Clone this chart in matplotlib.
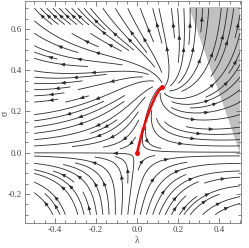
import numpy as np
import matplotlib
matplotlib.use("Agg")
import matplotlib.pyplot as plt
from matplotlib.ticker import MultipleLocator, FormatStrFormatter

# --- data ---
x_range = [-0.5, 0.5]
y_range = [-0.3, 0.7]
saddle = (0.0, 0.0)
source = (0.123, 0.318)
# red trajectory (source -> saddle)
red_x = [0.0, 0.012, 0.026, 0.049, 0.070, 0.089, 0.106, 0.123]
red_y = [0.0, 0.050, 0.105, 0.176, 0.230, 0.273, 0.302, 0.318]
# shaded (excluded) region
gray_x = [0.252, 0.5, 0.5]
gray_y = [0.704, 0.704, 0.0]
x_ticks = [-0.4, -0.2, 0.0, 0.2, 0.4]
y_ticks = [-0.2, 0.0, 0.2, 0.4, 0.6]

# --- vector field with a saddle at origin and a source at `source` ---
k = source[0] / source[1]

def field(X, Y):
    U = X - k * Y
    d = X - source[0]
    y0 = source[1] - 0.6 * d - 1.0 * d ** 2
    V = 3.0 * Y * (Y - y0)
    return U, V

fig = plt.figure(figsize=(2.49, 2.48), dpi=100)
ax = fig.add_axes([25 / 249, 1 - 223 / 248, 216 / 249, 222 / 248])

xs = np.linspace(x_range[0], x_range[1], 200)
ys = np.linspace(y_range[0], y_range[1], 200)
X, Y = np.meshgrid(xs, ys)
U, V = field(X, Y)

ax.fill(gray_x, gray_y, color="#c0c0c0", zorder=0, lw=0)
ax.streamplot(X, Y, U, V, density=1.15, color="#2a2a2a", linewidth=0.6,
              arrowsize=0.5, arrowstyle="-|>", zorder=1)

ax.plot(red_x, red_y, color="red", lw=1.8, zorder=3, solid_capstyle="round")
ax.plot([saddle[0], source[0]], [saddle[1], source[1]], "o", color="red",
        ms=3.5, zorder=4, mec="none")

ax.set_xlim(-0.545, 0.505)
ax.set_ylim(-0.34, 0.735)

ax.set_xticks(x_ticks)
ax.set_yticks(y_ticks)
ax.xaxis.set_minor_locator(MultipleLocator(0.05))
ax.yaxis.set_minor_locator(MultipleLocator(0.05))
ax.xaxis.set_major_formatter(FormatStrFormatter("%.1f"))
ax.yaxis.set_major_formatter(FormatStrFormatter("%.1f"))
ax.tick_params(which="both", direction="in", top=True, right=True,
               labelsize=6.5, width=0.5, color="#555555", pad=2)
ax.tick_params(which="major", length=3.5)
ax.tick_params(which="minor", length=2)
for lab in ax.get_xticklabels() + ax.get_yticklabels():
    lab.set_family("Liberation Serif")
    lab.set_color("#444444")
for s in ax.spines.values():
    s.set_linewidth(0.6)
    s.set_color("#777777")

ax.set_xlabel("λ", family="Liberation Serif", fontsize=7, color="#444444")
ax.set_ylabel("σ", family="Liberation Serif", fontsize=7, color="#444444")
ax.xaxis.set_label_coords((137 - 25) / 216, -(236 - 223) / 222)
ax.yaxis.set_label_coords(-(25 - 10) / 216, (223 - 113) / 222)

fig.savefig("out.png", dpi=100)
